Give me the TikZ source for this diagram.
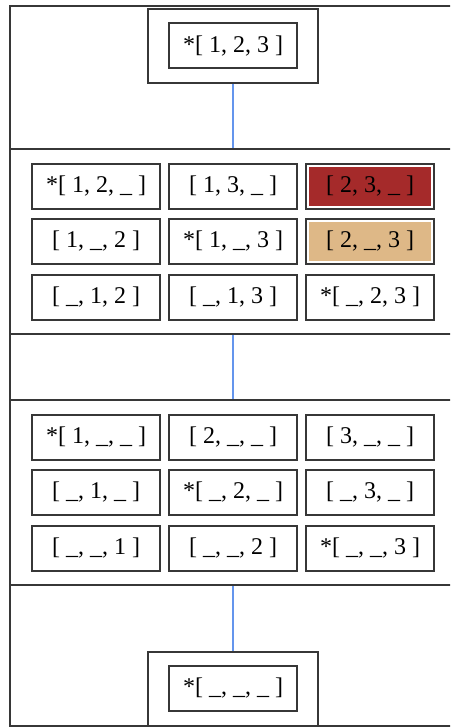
\documentclass[tikz,border=0pt]{standalone}
\usepackage{fontspec}
\setmainfont{Liberation Serif}
\usepackage{xcolor}

\definecolor{edge}{RGB}{100,149,237}
\definecolor{hotred}{RGB}{165,42,42}
\definecolor{hottan}{RGB}{222,184,135}
\definecolor{ink}{RGB}{55,55,55}

\tikzset{
  cell/.style={draw=ink, line width=2pt, fill=white, minimum width=128pt,
    minimum height=45pt, inner sep=0pt,
    font=\fontsize{24}{28}\selectfont},
  hot/.style={cell, path picture={\fill[#1]
    ([xshift=3pt,yshift=-3pt]path picture bounding box.north west) rectangle
    ([xshift=-3pt,yshift=3pt]path picture bounding box.south east);}},
  grp/.style={draw=ink, line width=2pt, minimum width=170pt, minimum height=74pt},
  frame/.style={draw=ink, line width=2pt, minimum width=460pt, minimum height=185pt}
}

\begin{document}
\begin{tikzpicture}[x=1pt, y=-1pt]
  \useasboundingbox (0,0) rectangle (450,727);
  \clip (0,0) rectangle (450,727);
  \draw[ink, line width=1.8pt] (10,6) rectangle (480,726);

  \node[grp] (top) at (233,46) {}; \node[cell] (t) at (233,46)
    {*[ 1, 2, 3 ]};

  \node[frame] (lv2) at (240,241.5) {};
  \node[cell] (a1) at (96,186.5) {*[ 1, 2, \_ ]};
  \node[cell] (a2) at (233,186.5) {[ 1, 3, \_ ]};
  \node[hot=hotred] (a3) at (370,186.5) {[ 2, 3, \_ ]};
  \node[cell] (a4) at (96,241.5) {[ 1, \_, 2 ]};
  \node[cell] (a5) at (233,241.5) {*[ 1, \_, 3 ]};
  \node[hot=hottan] (a6) at (370,241.5) {[ 2, \_, 3 ]};
  \node[cell] (a7) at (96,297) {[ \_, 1, 2 ]};
  \node[cell] (a8) at (233,297) {[ \_, 1, 3 ]};
  \node[cell] (a9) at (370,297) {*[ \_, 2, 3 ]};

  \node[frame] (lv1) at (240,492.5) {};
  \node[cell] (b1) at (96,437.5) {*[ 1, \_, \_ ]};
  \node[cell] (b2) at (233,437.5) {[ 2, \_, \_ ]};
  \node[cell] (b3) at (370,437.5) {[ 3, \_, \_ ]};
  \node[cell] (b4) at (96,492.5) {[ \_, 1, \_ ]};
  \node[cell] (b5) at (233,492.5) {*[ \_, 2, \_ ]};
  \node[cell] (b6) at (370,492.5) {[ \_, 3, \_ ]};
  \node[cell] (b7) at (96,548) {[ \_, \_, 1 ]};
  \node[cell] (b8) at (233,548) {[ \_, \_, 2 ]};
  \node[cell] (b9) at (370,548) {*[ \_, \_, 3 ]};

  \node[grp] (bot) at (233,689) {}; \node[cell] (z) at (233,688.5)
    {*[ \_, \_, \_ ]};

  \draw[edge, line width=1.2pt] (top.south) -- (top.south |- lv2.north);
  \draw[edge, line width=1.2pt] (top.south |- lv2.south) -- (top.south |- lv1.north);
  \draw[edge, line width=1.2pt] (top.south |- lv1.south) -- (bot.north);
\end{tikzpicture}
\end{document}
